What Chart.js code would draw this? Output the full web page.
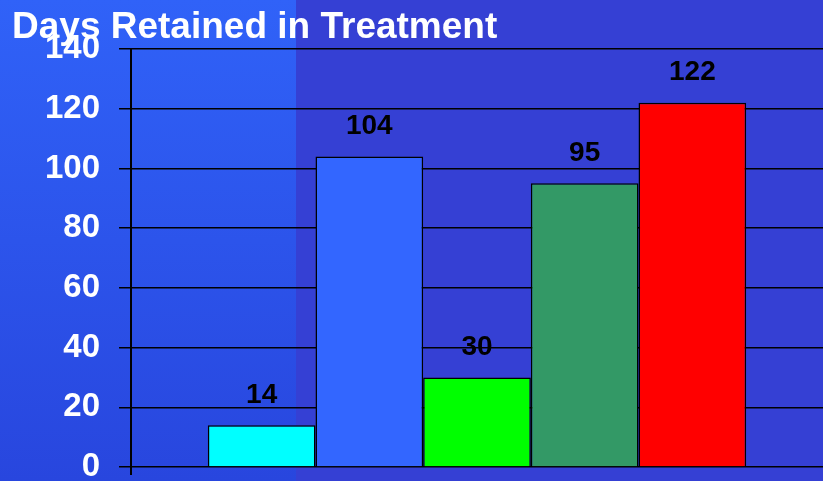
<!DOCTYPE html>
<html>
<head>
<meta charset="utf-8">
<script src="https://cdn.jsdelivr.net/npm/chart.js@4/dist/chart.umd.min.js"></script>
<style>
html,body{margin:0;padding:0;background:#3540d4;}
#wrap{width:823px;height:481px;position:relative;}
</style>
</head>
<body>
<div id="wrap"><canvas id="c" width="823" height="481"></canvas></div>
<script>
const chartTitle = "Days Retained in Treatment";
const categories = [""];
const seriesNames = ["Group 1", "Group 2", "Group 3", "Group 4", "Group 5"];
const seriesValues = [14, 104, 30, 95, 122];
const seriesColors = ["#00FFFF", "#3366FF", "#00FF00", "#339966", "#FF0000"];
const yTicks = [0, 20, 40, 60, 80, 100, 120, 140];

const bgPlugin = {
  id: 'bg',
  beforeDraw(chart) {
    const ctx = chart.ctx;
    ctx.save();
    ctx.fillStyle = '#3540d4';
    ctx.fillRect(0, 0, chart.width, chart.height);
    const g = ctx.createLinearGradient(0, 0, 0, chart.height);
    g.addColorStop(0, '#3062f8');
    g.addColorStop(1, '#2846de');
    ctx.fillStyle = g;
    ctx.fillRect(0, 0, 296, chart.height);
    ctx.restore();
  }
};

const labelPlugin = {
  id: 'vals',
  afterDatasetsDraw(chart) {
    const ctx = chart.ctx;
    ctx.save();
    ctx.fillStyle = '#000';
    ctx.font = 'bold 28px "Liberation Sans", Arial, sans-serif';
    ctx.textAlign = 'center';
    ctx.textBaseline = 'middle';
    chart.data.datasets.forEach((ds, i) => {
      const meta = chart.getDatasetMeta(i);
      meta.data.forEach((el, j) => {
        ctx.fillText(String(ds.data[j]), el.x, el.y - 30);
      });
    });
    ctx.restore();
  },
  afterDraw(chart) {
    const ctx = chart.ctx;
    ctx.save();
    ctx.fillStyle = '#fff';
    ctx.font = 'bold 37px "Liberation Sans", Arial, sans-serif';
    ctx.textAlign = 'left';
    ctx.textBaseline = 'alphabetic';
    ctx.fillText(chartTitle, 12, 38);
    ctx.restore();
  }
};

new Chart(document.getElementById('c'), {
  type: 'bar',
  data: {
    labels: categories,
    datasets: seriesNames.map((n, i) => ({
      label: n,
      data: [seriesValues[i]],
      backgroundColor: seriesColors[i],
      borderColor: '#000',
      borderWidth: 1.5,
      borderSkipped: 'bottom'
    }))
  },
  options: {
    responsive: false,
    animation: false,
    devicePixelRatio: 1,
    categoryPercentage: 0.778,
    barPercentage: 1,
    layout: { padding: { top: 49, right: 0, bottom: 0, left: 0 } },
    plugins: { legend: { display: false }, tooltip: { enabled: false }, title: { display: false } },
    scales: {
      x: {
        afterFit(s) { s.height = 14; s.paddingLeft = 0; s.paddingRight = 0; },
        grid: {
          display: true, drawOnChartArea: false, lineWidth: 2, tickLength: 8, offset: true,
          color: (c) => c.index === 0 ? '#000' : 'rgba(0,0,0,0)'
        },
        border: { display: false },
        ticks: { display: false }
      },
      y: {
        min: 0, max: 140,
        afterBuildTicks(s) { s.ticks = yTicks.map(v => ({ value: v })); },
        afterFit(s) { s.width = 131; s.paddingTop = 0; s.paddingBottom = 0; },
        grid: { color: '#000', lineWidth: 1.5, tickLength: 12 },
        border: { color: '#000', width: 2 },
        ticks: {
          color: '#fff',
          padding: 19,
          font: { family: '"Liberation Sans", Arial, sans-serif', size: 33, weight: 'bold' }
        }
      }
    }
  },
  plugins: [bgPlugin, labelPlugin]
});
</script>
</body>
</html>
